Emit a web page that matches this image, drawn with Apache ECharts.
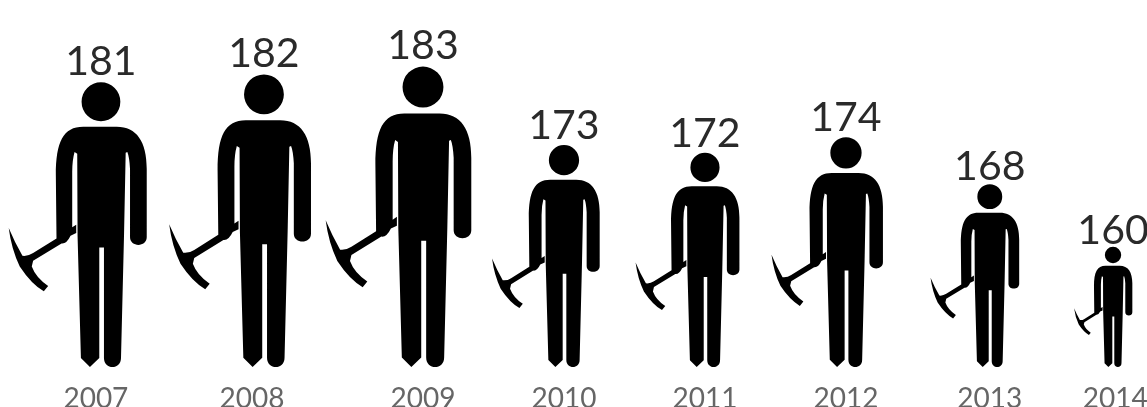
<!DOCTYPE html>
<html>
<head>
<meta charset="utf-8">
<style>html,body{margin:0;padding:0;background:#fff}#c{width:1147px;height:407px}</style>
<script src="https://cdn.jsdelivr.net/npm/echarts@6/dist/echarts.min.js"></script>
</head>
<body>
<div id="c"></div>
<script>
const years = ['2007','2008','2009','2010','2011','2012','2013','2014'];
const depths = [181,182,183,173,172,174,168,160];
const figureSlots = [0.716,1.872,3,4,5,6,7.02,7.894];
const yearSlots = [0.68,1.787,3,4,5,6,7.02,7.91];

const MINER = 'M250 295L350 295C410 295 440 340 440 420L440 625C440 655 390 655 390 625L390 420Q388 385 382 370L377 372L372 620L363 985C363 1021 312 1021 312 985L312 655L298 655L298 985L270 1012L243 985L233 620L232 375L224 370Q217 395 217 430L217 595L229 587L229 612L212 620Q200 645 185 643L100 695L96 712Q108 745 145 770L132 786Q95 765 60 712Q35 660 27 597Q45 640 68 680Q85 682 100 672L170 628L168 440C168 340 190 295 250 295Z'
  + 'M303 162A58 58 0 1 1 303 278A58 58 0 1 1 303 162Z';
const BOX = {minX:27, maxX:440, minY:162, maxY:1014, headX:303};

const chart = echarts.init(document.getElementById('c'), null, {renderer:'canvas'});
chart.setOption({
  animation:false,
  backgroundColor:'#fff',
  grid:{left:0,right:0,top:0,bottom:40,outerBoundsMode:'none'},
  xAxis:{
    type:'value',min:0,max:8.135,
    splitLine:{show:false},axisLine:{show:false},axisTick:{show:false},
    axisLabel:{
      customValues:yearSlots,
      margin:18,
      fontFamily:'Lato',fontSize:28,color:'#666',
      formatter:v=>years[yearSlots.indexOf(v)]
    }
  },
  yAxis:{type:'value',min:144.67,max:191.5,show:false},
  series:[{
    type:'custom',
    coordinateSystem:'cartesian2d',
    clip:false,
    data:depths.map((d,i)=>[figureSlots[i],d]),
    encode:{x:0,y:1},
    renderItem(params,api){
      const top = api.coord([api.value(0),api.value(1)]);
      const base = api.coord([api.value(0),144.67]);
      const h = base[1]-top[1];
      const scale = h/(BOX.maxY-BOX.minY);
      const w = (BOX.maxX-BOX.minX)*scale;
      const left = top[0]-(BOX.headX-BOX.minX)*scale;
      return {type:'group',children:[
        {type:'path',shape:{pathData:MINER,layout:'cover',x:left,y:top[1],width:w,height:h},
         style:{fill:'#000'}},
        {type:'text',x:top[0],y:top[1]+4-0.022*(h-120),
         style:{text:String(api.value(1)),font:'41px Lato',fill:'#2a2a2a',align:'center',verticalAlign:'bottom'}}
      ]};
    }
  }]
});
</script>
</body>
</html>
